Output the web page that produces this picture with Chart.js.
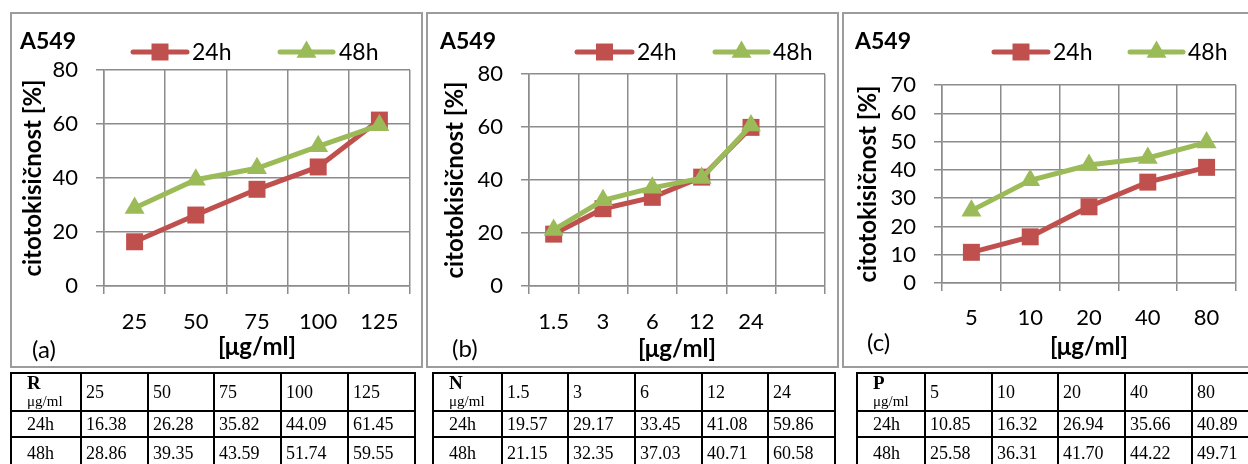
<!DOCTYPE html>
<html>
<head>
<meta charset="utf-8">
<title>A549 citotoksičnost</title>
<script src="https://cdn.jsdelivr.net/npm/chart.js@4.4.1/dist/chart.umd.min.js"></script>
<style>
  body { margin: 0; width: 1248px; height: 464px; background: #fff; position: relative; overflow: hidden; font-family: Lato, sans-serif; }
  .panel { position: absolute; top: 12px; height: 352px; width: 409px; border: 2px solid #9c9c9c; }
  canvas { position: absolute; }
  .lbl { position: absolute; font-size: 23px; color: #000; line-height: 26px; }
  .a549 { font-weight: bold; }
  table { position: absolute; top: 372px; border-collapse: collapse; table-layout: fixed; font-family: "Liberation Serif", serif; font-size: 18px; color: #000; }
  td { border: 2px solid #000; padding: 0 0 0 4px; vertical-align: middle; white-space: nowrap; overflow: hidden; }
  td.first { padding-left: 15px; }
  tr.h td { height: 34px; }
  tr.r1 td { height: 24px; }
  tr.r2 td { height: 30px; }
  .hd { line-height: 17px; }
  .hd b { font-size: 19px; }
  .hd span { font-size: 15px; }
</style>
</head>
<body>

<div class="panel" style="left:10px"></div>
<div class="panel" style="left:426px"></div>
<div class="panel" style="left:842px"></div>

<canvas id="chartR" width="410" height="352" style="left:12px;top:14px"></canvas>
<canvas id="chartN" width="409" height="352" style="left:428px;top:14px"></canvas>
<canvas id="chartP" width="404" height="352" style="left:844px;top:14px"></canvas>

<div class="lbl a549" style="left:20px;top:27px">A549</div>
<div class="lbl a549" style="left:440px;top:27px">A549</div>
<div class="lbl a549" style="left:855px;top:27px">A549</div>
<div class="lbl" style="left:32px;top:336px;font-size:24px">(a)</div>
<div class="lbl" style="left:452px;top:335px;font-size:24px">(b)</div>
<div class="lbl" style="left:867px;top:329px;font-size:24px">(c)</div>

<table id="tabR" style="left:10px"></table>
<table id="tabN" style="left:432px"></table>
<table id="tabP" style="left:856px"></table>

<script>
// R extract
const labelsR = ['25', '50', '75', '100', '125'];
const r24 = [16.38, 26.28, 35.82, 44.09, 61.45];
const r48 = [28.86, 39.35, 43.59, 51.74, 59.55];

// N extract (sixth category is left empty on the chart)
const labelsN = ['1.5', '3', '6', '12', '24', ''];
const n24 = [19.57, 29.17, 33.45, 41.08, 59.86];
const n48 = [21.15, 32.35, 37.03, 40.71, 60.58];

// P extract
const labelsP = ['5', '10', '20', '40', '80'];
const p24 = [10.85, 16.32, 26.94, 35.66, 40.89];
const p48 = [25.58, 36.31, 41.70, 44.22, 49.71];

const RED = '#C0504D';
const GREEN = '#9BBB59';
const GRID = '#8c8c8c';
const FONT = 'Lato, sans-serif';

// excel-like legend: line with marker through it, then the label
const lineLegend = {
    id: 'lineLegend',
    afterDraw(chart, args, opts) {
        const ctx = chart.ctx;
        const y = opts.y;
        ctx.save();
        chart.data.datasets.forEach((ds, i) => {
            const it = opts.items[i];
            const cx = (it.x0 + it.x1) / 2;
            ctx.strokeStyle = ds.borderColor;
            ctx.lineWidth = ds.borderWidth;
            ctx.lineCap = 'round';
            ctx.beginPath();
            ctx.moveTo(it.x0, y);
            ctx.lineTo(it.x1, y);
            ctx.stroke();

            ctx.fillStyle = ds.pointBackgroundColor;
            ctx.beginPath();
            const r = ds.pointRadius;
            if (ds.pointStyle === 'rect') {
                const s = r * Math.SQRT1_2;
                ctx.rect(cx - s, y - s, 2 * s, 2 * s);
            } else {
                ctx.moveTo(cx, y - r);
                ctx.lineTo(cx + r * Math.sin(Math.PI / 3), y + r / 2);
                ctx.lineTo(cx - r * Math.sin(Math.PI / 3), y + r / 2);
                ctx.closePath();
            }
            ctx.fill();

            ctx.fillStyle = '#000';
            ctx.font = '23px ' + FONT;
            ctx.textBaseline = 'middle';
            ctx.fillText(ds.label, it.tx, y + 1);
        });
        ctx.restore();
    }
};

function makeChart(id, labels, d24, d48, yMax, yStep, geo) {
    return new Chart(document.getElementById(id), {
        type: 'line',
        data: {
            labels: labels,
            datasets: [{
                label: '24h',
                data: d24,
                borderColor: RED,
                backgroundColor: RED,
                pointBackgroundColor: RED,
                pointBorderColor: RED,
                pointStyle: 'rect',
                pointRadius: 12,
                pointBorderWidth: 0,
                borderWidth: 5,
                order: 1
            }, {
                label: '48h',
                data: d48,
                borderColor: GREEN,
                backgroundColor: GREEN,
                pointBackgroundColor: GREEN,
                pointBorderColor: GREEN,
                pointStyle: 'triangle',
                pointRadius: 11.5,
                pointBorderWidth: 0,
                borderWidth: 5,
                order: 0
            }]
        },
        options: {
            responsive: false,
            animation: false,
            clip: false,
            layout: { padding: { top: geo.top, right: geo.right, left: 0, bottom: 0 } },
            plugins: {
                legend: { display: false },
                tooltip: { enabled: false },
                lineLegend: geo.legend
            },
            scales: {
                x: {
                    offset: true,
                    grid: { offset: true, color: GRID, lineWidth: 1.5, tickLength: 8 },
                    border: { color: GRID, width: 1.5 },
                    ticks: { color: '#000', font: { family: FONT, size: 22 }, padding: geo.xtp, maxRotation: 0, autoSkip: false },
                    title: {
                        display: true,
                        text: '[μg/ml]',
                        color: '#000',
                        font: { family: FONT, size: 24, weight: 'bold' },
                        padding: { top: 0, bottom: geo.xttl }
                    },
                    afterFit: s => { s.height = geo.xh; }
                },
                y: {
                    min: 0,
                    max: yMax,
                    grid: { color: GRID, lineWidth: 1.5, tickLength: 8 },
                    border: { color: GRID, width: 1.5 },
                    ticks: { stepSize: yStep, autoSkip: false, color: '#000', font: { family: FONT, size: 22 }, padding: 18 },
                    title: {
                        display: true,
                        text: 'citotokisičnost [%]',
                        color: '#000',
                        font: { family: FONT, size: 24, weight: 'bold' },
                        padding: { top: geo.yttl, bottom: 0 }
                    },
                    afterFit: s => { s.width = geo.yw; }
                }
            }
        },
        plugins: [lineLegend]
    });
}

makeChart('chartR', labelsR, r24, r48, 80, 20, {
    top: 56, right: 5, yw: 92, xh: 80, xtp: 15, xttl: 4, yttl: 7,
    legend: { y: 38, items: [{ x0: 121, x1: 175, tx: 180 }, { x0: 268, x1: 321, tx: 327 }] }
});
makeChart('chartN', labelsN, n24, n48, 80, 20, {
    top: 60, right: 4, yw: 101, xh: 80, xtp: 15, xttl: 2, yttl: 13,
    legend: { y: 38, items: [{ x0: 149, x1: 204, tx: 209 }, { x0: 287, x1: 340, tx: 345 }] }
});
makeChart('chartP', labelsP, p24, p48, 70, 10, {
    top: 71, right: 5, yw: 98, xh: 83, xtp: 14, xttl: 4, yttl: 10,
    legend: { y: 38, items: [{ x0: 150, x1: 204, tx: 209 }, { x0: 286, x1: 339, tx: 344 }] }
});

// data tables under the charts
function buildTable(id, name, labels, d24, d48, widths) {
    const n = d24.length;
    let html = '<colgroup>' + widths.map(w => '<col style="width:' + w + 'px">').join('') + '</colgroup>';
    html += '<tr class="h"><td class="first hd"><b>' + name + '</b><br><span>μg/ml</span></td>';
    for (let i = 0; i < n; i++) html += '<td>' + labels[i] + '</td>';
    html += '</tr><tr class="r1"><td class="first">24h</td>';
    for (let i = 0; i < n; i++) html += '<td>' + d24[i].toFixed(2) + '</td>';
    html += '</tr><tr class="r2"><td class="first">48h</td>';
    for (let i = 0; i < n; i++) html += '<td>' + d48[i].toFixed(2) + '</td>';
    html += '</tr>';
    const t = document.getElementById(id);
    t.innerHTML = html;
    t.style.width = widths.reduce((a, b) => a + b, 0) + 'px';
}

buildTable('tabR', 'R', labelsR, r24, r48, [70, 67, 66, 67, 67, 67]);
buildTable('tabN', 'N', labelsN, n24, n48, [69, 66, 67, 67, 66, 67]);
buildTable('tabP', 'P', labelsP, p24, p48, [68, 67, 66, 67, 67, 67]);
</script>
</body>
</html>
